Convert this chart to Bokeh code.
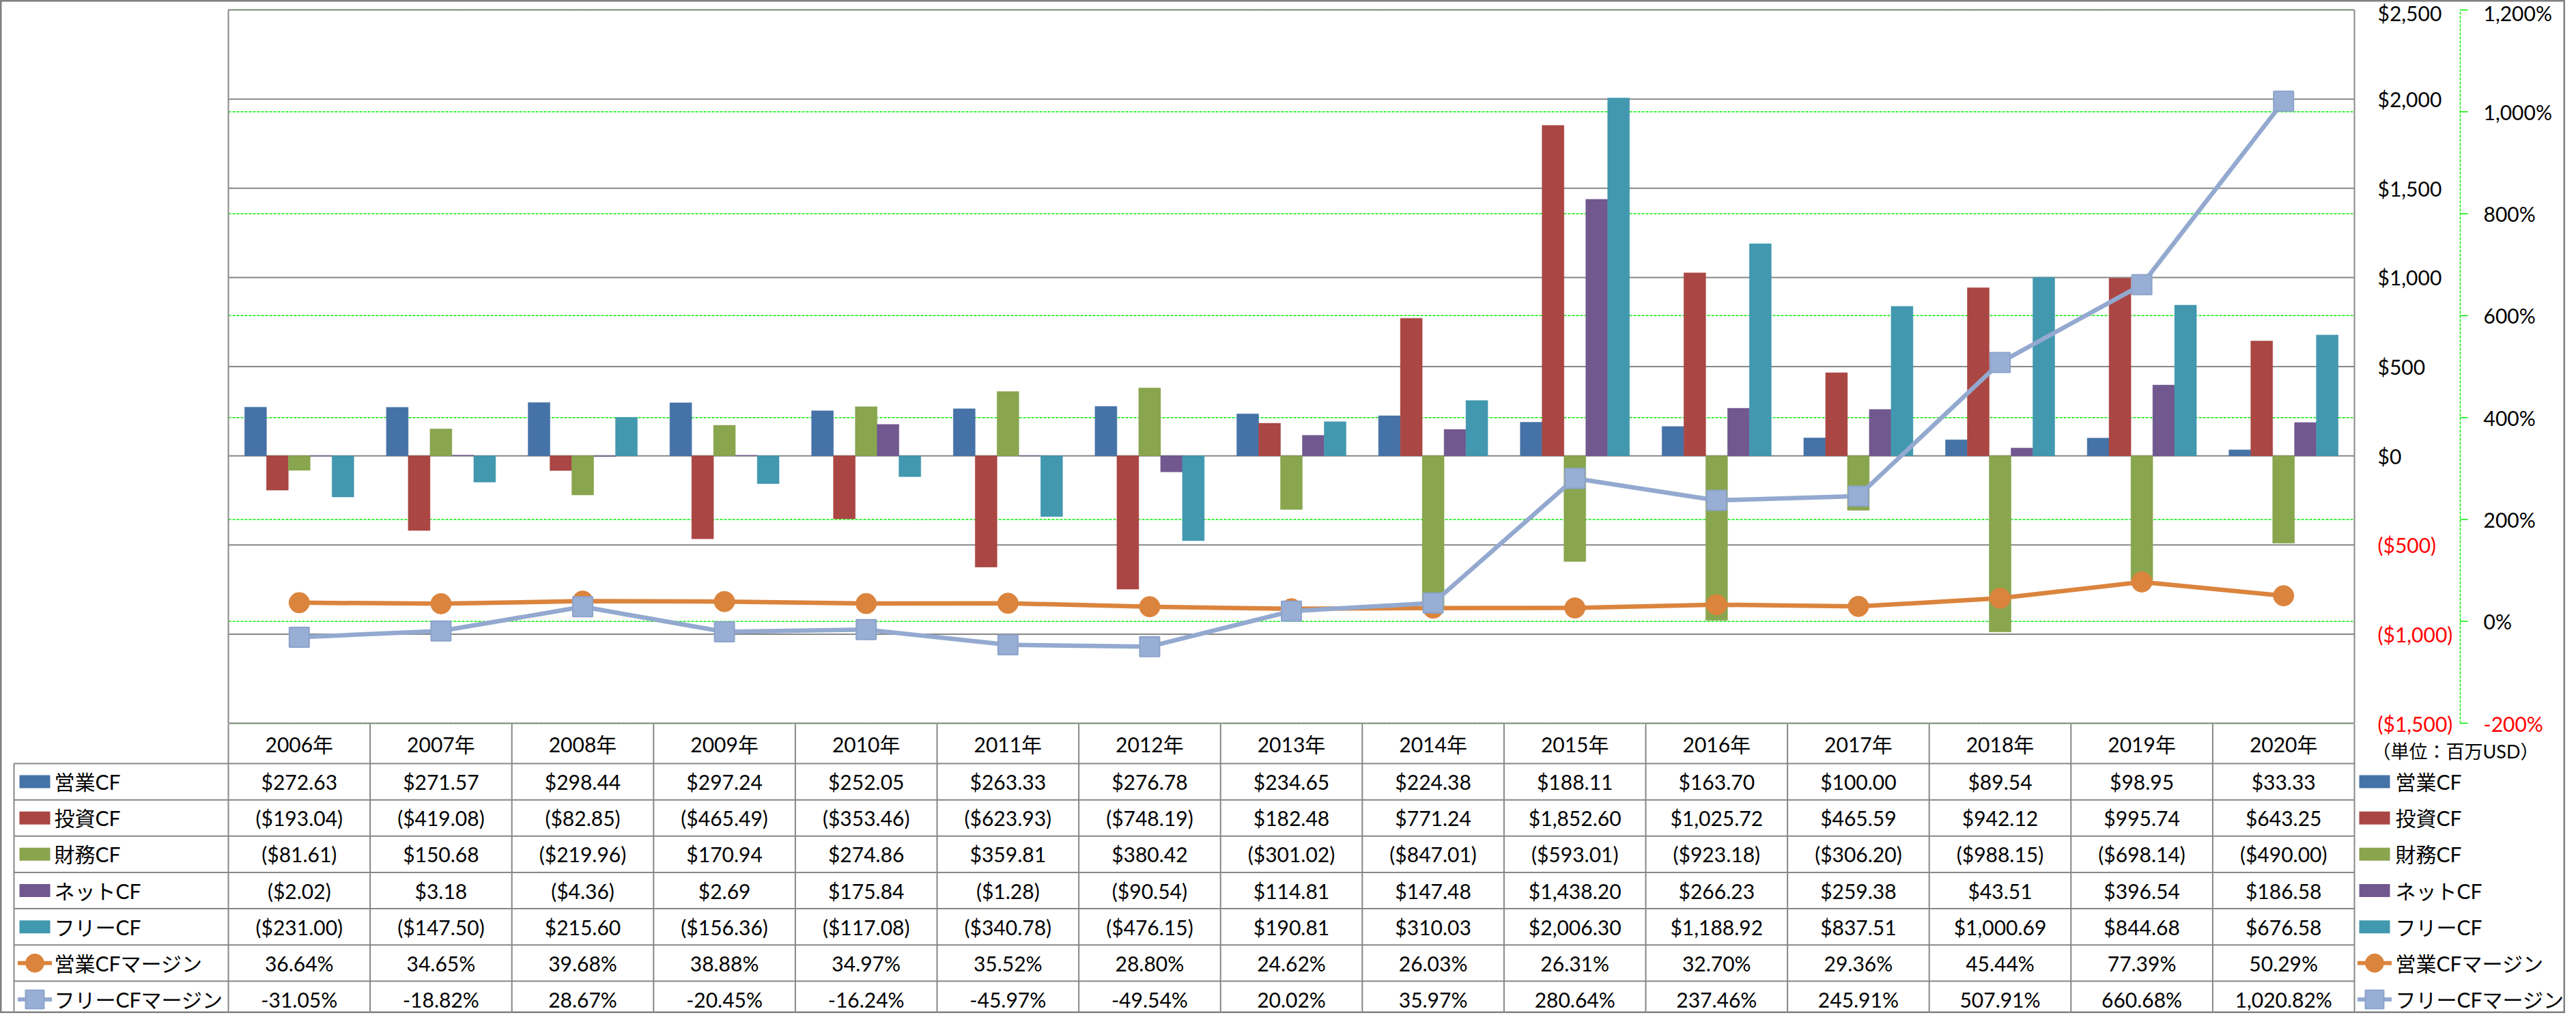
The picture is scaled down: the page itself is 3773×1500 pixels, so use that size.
import numpy as np
from bokeh.plotting import figure
from bokeh.models import Range1d
from bokeh.core.properties import value
from bokeh.embed import file_html
from bokeh.resources import INLINE

# ---------------- data ----------------
years = ["2006年", "2007年", "2008年", "2009年", "2010年", "2011年", "2012年", "2013年",
         "2014年", "2015年", "2016年", "2017年", "2018年", "2019年", "2020年"]
op_cf = [272.63, 271.57, 298.44, 297.24, 252.05, 263.33, 276.78, 234.65, 224.38, 188.11,
         163.70, 100.00, 89.54, 98.95, 33.33]
inv_cf = [-193.04, -419.08, -82.85, -465.49, -353.46, -623.93, -748.19, 182.48, 771.24, 1852.60,
          1025.72, 465.59, 942.12, 995.74, 643.25]
fin_cf = [-81.61, 150.68, -219.96, 170.94, 274.86, 359.81, 380.42, -301.02, -847.01, -593.01,
          -923.18, -306.20, -988.15, -698.14, -490.00]
net_cf = [-2.02, 3.18, -4.36, 2.69, 175.84, -1.28, -90.54, 114.81, 147.48, 1438.20,
          266.23, 259.38, 43.51, 396.54, 186.58]
free_cf = [-231.00, -147.50, 215.60, -156.36, -117.08, -340.78, -476.15, 190.81, 310.03, 2006.30,
           1188.92, 837.51, 1000.69, 844.68, 676.58]
op_margin = [36.64, 34.65, 39.68, 38.88, 34.97, 35.52, 28.80, 24.62, 26.03, 26.31,
             32.70, 29.36, 45.44, 77.39, 50.29]
free_margin = [-31.05, -18.82, 28.67, -20.45, -16.24, -45.97, -49.54, 20.02, 35.97, 280.64,
               237.46, 245.91, 507.91, 660.68, 1020.82]

bar_names = ["営業CF", "投資CF", "財務CF", "ネットCF", "フリーCF"]
line_names = ["営業CFマージン", "フリーCFマージン"]
dollar_ticks = [-1500, -1000, -500, 0, 500, 1000, 1500, 2000, 2500]
pct_ticks = [-200, 0, 200, 400, 600, 800, 1000, 1200]
unit_text = "（単位：百万USD）"

# ---------------- styles / layout ----------------
BAR_COLORS = ["#4572A7", "#AA4643", "#89A54E", "#71588F", "#4198AF"]
ORANGE = "#DB843D"
LBLUE = "#93A9CF"
GRID = "#878787"
GREEN = "#00EE00"
FONT = value("Lato, Noto Sans CJK JP")

W, H = 3757, 1484
M = 8
PL, PR, PT, PB = 342, 3456, 22, 1067
N = len(years)
CAT_W = (PR - PL) / N
DPP = (dollar_ticks[-1] - dollar_ticks[0]) / (PB - PT)
PPP = (pct_ticks[-1] - pct_ticks[0]) / (PB - PT)


def X(px):
    return (px - PL) / CAT_W


def D(py):
    return dollar_ticks[-1] - (py - PT) * DPP


def P(py):
    return pct_ticks[-1] - (py - PT) * PPP


p = figure(width=W, height=H, x_range=Range1d(X(M), X(M + W)), y_range=Range1d(D(M + H), D(M)),
           output_backend="svg", toolbar_location=None, x_axis_location=None,
           y_axis_location=None, min_border=0)
p.extra_y_ranges = {"pct": Range1d(P(M + H), P(M))}
p.grid.visible = False
p.outline_line_color = "#808080"
p.outline_line_width = 4
p.background_fill_color = "white"
p.border_fill_color = "white"

centers = np.arange(N) + 0.5

# gridlines (secondary green dashed, primary gray)
p.segment(x0=[X(PL)] * len(pct_ticks), x1=[X(PR)] * len(pct_ticks), y0=pct_ticks, y1=pct_ticks,
          y_range_name="pct", line_color=GREEN, line_width=1.5, line_dash="4 2")
p.segment(x0=[X(PL)] * len(dollar_ticks), x1=[X(PR)] * len(dollar_ticks), y0=dollar_ticks,
          y1=dollar_ticks, line_color=GRID, line_width=2)

# bars
bw = 32 / CAT_W
series = [op_cf, inv_cf, fin_cf, net_cf, free_cf]
for k, (vals, col) in enumerate(zip(series, BAR_COLORS)):
    p.vbar(x=centers + (k - 2) * bw, top=vals, bottom=0, width=bw, fill_color=col, line_color=col,
           line_width=0.5)

# lines
p.line(centers, op_margin, y_range_name="pct", line_color=ORANGE, line_width=6.5)
p.scatter(centers, op_margin, y_range_name="pct", marker="circle", size=30,
          fill_color=ORANGE, line_color=ORANGE)
p.line(centers, free_margin, y_range_name="pct", line_color=LBLUE, line_width=6.5)
p.scatter(centers, free_margin, y_range_name="pct", marker="square", size=29,
          fill_color="#98AED4", line_color="#8CA3CB", line_width=2)

# ---------------- data table ----------------
HDR_TOP, ROW_TOP, TBL_BOT = 1068, 1126, 1498
ROW_H = (TBL_BOT - ROW_TOP) / 7
row_ys = [ROW_TOP + k * ROW_H for k in range(8)]
p.segment(x0=[X(28)] * 8, x1=[X(PR)] * 8, y0=[D(y) for y in row_ys], y1=[D(y) for y in row_ys],
          line_color=GRID, line_width=2)
vx = [X(PL + i * CAT_W) for i in range(N + 1)]
p.segment(x0=vx, x1=vx, y0=[D(HDR_TOP)] * len(vx), y1=[D(TBL_BOT)] * len(vx),
          line_color=GRID, line_width=2)
p.segment(x0=[X(PL), X(PR), X(28)], x1=[X(PL), X(PR), X(28)],
          y0=[D(PT), D(PT), D(ROW_TOP)], y1=[D(PB), D(PB), D(TBL_BOT)],
          line_color=GRID, line_width=2)

p.text(x=centers, y=[D((HDR_TOP + ROW_TOP) / 2)] * N, text=years, text_align="center",
       text_baseline="middle", text_font=FONT, text_font_size="30px", text_color="black")


def fmt_d(v):
    return f"${v:,.2f}" if v >= 0 else f"(${-v:,.2f})"


def fmt_p(v):
    return f"{v:,.2f}%"


rows = [[fmt_d(v) for v in s] for s in series] + [[fmt_p(v) for v in op_margin],
                                                   [fmt_p(v) for v in free_margin]]
for r, texts in enumerate(rows):
    yc = D(ROW_TOP + (r + 0.5) * ROW_H)
    p.text(x=centers, y=[yc] * N, text=texts, text_align="center", text_baseline="middle",
           text_font=FONT, text_font_size="30px", text_color="black")

# legend keys (left column inside table and right side)
names = bar_names + line_names
row_c = [D(ROW_TOP + (r + 0.5) * ROW_H) for r in range(7)]
for key_cx, text_x in [(58.5, 87), (3485.5, 3516)]:
    p.rect(x=[X(key_cx)] * 5, y=row_c[:5], width=45, height=19, width_units="screen",
           height_units="screen", fill_color=BAR_COLORS, line_color=None)
    p.segment(x0=[X(key_cx - 25)] * 2, x1=[X(key_cx + 25)] * 2, y0=row_c[5:], y1=row_c[5:],
              line_color=[ORANGE, LBLUE], line_width=6)
    p.scatter(x=[X(key_cx)], y=[row_c[5]], marker="circle", size=27, fill_color=ORANGE,
              line_color=ORANGE)
    p.scatter(x=[X(key_cx)], y=[row_c[6]], marker="square", size=27, fill_color="#98AED4",
              line_color="#8CA3CB", line_width=2)
    p.text(x=[X(text_x)] * 7, y=row_c, text=names, text_align="left", text_baseline="middle",
           text_font=FONT, text_font_size="30px", text_color="black")

# ---------------- right-hand axes ----------------
d_labels = [f"${t:,.0f}" if t >= 0 else f"(${-t:,.0f})" for t in dollar_ticks]
d_colors = ["black" if t >= 0 else "#FF0000" for t in dollar_ticks]
d_off = [4 if t == dollar_ticks[-1] else 0 for t in dollar_ticks]
p.text(x=[X(3490)] * len(dollar_ticks), y=dollar_ticks, text=d_labels, text_color=d_colors,
       y_offset=d_off, text_align="left", text_baseline="middle", text_font=FONT,
       text_font_size="30px")

p_labels = [f"{t:,.0f}%" for t in pct_ticks]
p_colors = ["black" if t >= 0 else "#FF0000" for t in pct_ticks]
p_off = [4 if t == pct_ticks[-1] else 0 for t in pct_ticks]
p.segment(x0=[X(3611)], x1=[X(3611)], y0=[pct_ticks[0]], y1=[pct_ticks[-1]], y_range_name="pct",
          line_color=GREEN, line_width=1.5, line_dash="4 2")
p.segment(x0=[X(3611)] * len(pct_ticks), x1=[X(3622)] * len(pct_ticks), y0=pct_ticks,
          y1=pct_ticks, y_range_name="pct", line_color=GREEN, line_width=1.5)
p.text(x=[X(3645)] * len(pct_ticks), y=pct_ticks, text=p_labels, text_color=p_colors,
       y_offset=p_off, y_range_name="pct", text_align="left", text_baseline="middle",
       text_font=FONT, text_font_size="30px")

p.text(x=[X(3482)], y=[D(1108)], text=[unit_text], text_align="left", text_baseline="middle",
       text_font=FONT, text_font_size="27px", text_color="black")

open("out.html", "w").write(file_html(p, INLINE))
